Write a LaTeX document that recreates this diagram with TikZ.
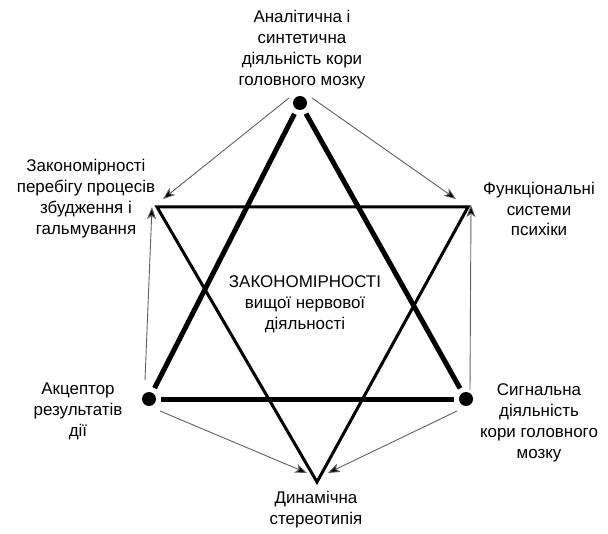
\documentclass[tikz,border=0pt]{standalone}
\usepackage{fontspec}
\setmainfont{Liberation Sans}
\usetikzlibrary{arrows.meta}
\definecolor{arrowgray}{RGB}{95,95,95}
\begin{document}
\begin{tikzpicture}[x=1bp,y=-1bp,
  dotnode/.style={circle,fill=black,inner sep=0pt,minimum size=14bp},
  label/.style={align=center,font=\fontsize{17}{21}\selectfont,inner sep=0pt},
  thickline/.style={line width=5bp,line cap=butt,shorten <=5bp,shorten >=5bp},
  midline/.style={line width=3bp,line join=miter},
  thinarrow/.style={draw=arrowgray,line width=0.9bp,-{Stealth[length=12bp,width=9bp,inset=3bp,fill=black]}}]
\useasboundingbox (0,0) rectangle (608,534);
% dots (thick triangle vertices)
\node[dotnode] (T) at (300,103) {};
\node[dotnode] (BL) at (149,399) {};
\node[dotnode] (BR) at (466,399) {};
% second triangle vertices
\coordinate (A) at (157,207);
\coordinate (B) at (468,207);
\coordinate (C) at (317,482);
% thick triangle
\draw[thickline] (T) -- (BL);
\draw[thickline] (T) -- (BR);
\draw[thickline] (BL) -- (BR);
% second triangle
\draw[midline] (A) -- (B) -- (C) -- cycle;
% arrow end points
\coordinate (s1) at (289,98);  \coordinate (e1) at (163,199);
\coordinate (s2) at (312,98);  \coordinate (e2) at (456,199);
\coordinate (s3) at (145,380); \coordinate (e3) at (152,207);
\coordinate (s4) at (470,390); \coordinate (e4) at (471,205);
\coordinate (s5) at (160,411); \coordinate (e5) at (307,473);
\coordinate (s6) at (457,411); \coordinate (e6) at (328,473);
\draw[thinarrow] (s1) -- (e1);
\draw[thinarrow] (s2) -- (e2);
\draw[thinarrow] (s3) -- (e3);
\draw[thinarrow] (s4) -- (e4);
\draw[thinarrow] (s5) -- (e5);
\draw[thinarrow] (s6) -- (e6);
% labels
\node[label] (ltop) at (302,50) {Аналітична і\\синтетична\\діяльність кори\\головного мозку};
\node[label] (lleft) at (86,199) {Закономірності\\перебігу процесів\\збудження і\\гальмування};
\node[label] (lright) at (539,209) {Функціональні\\системи\\психіки};
\node[label] (lbl) at (78,411) {Акцептор\\результатів\\дії};
\node[label] (lbr) at (539,423) {Сигнальна\\діяльність\\кори головного\\мозку};
\node[label] (lbot) at (316,510) {Динамічна\\стереотипія};
\node[label] (lcen) at (305,304) {ЗАКОНОМІРНОСТІ\\вищої нервової\\діяльності};
\end{tikzpicture}
\end{document}
